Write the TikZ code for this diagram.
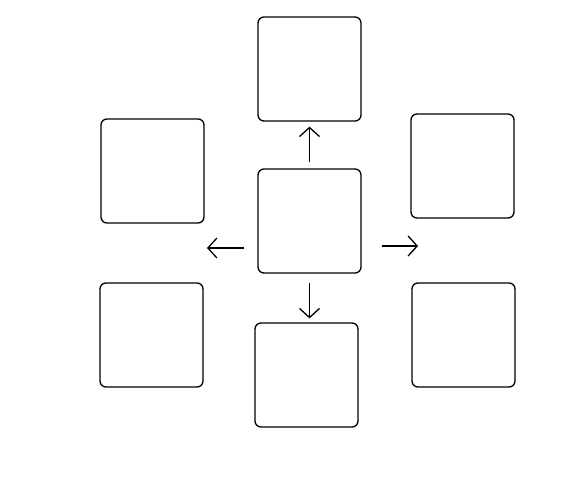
\documentclass[tikz,border=0pt]{standalone}
\usepackage{tikz}
\usetikzlibrary{arrows.meta, calc}

\begin{document}
\begin{tikzpicture}[
    x=1pt, y=-1pt,
    box/.style={rectangle, draw, rounded corners=6pt, line width=1.3pt, minimum width=103pt, minimum height=104pt, inner sep=0pt},
    arr/.style={-{Straight Barb[length=9pt, width=20pt]}, line width=1.3pt}
]
\useasboundingbox (0,0) rectangle (588,486);

% Centre box
\node[box] (centre) at (309.5, 221) {};

% Surrounding boxes
\node[box] (top) at (309.5, 69) {};
\node[box] (lefttop) at (152.5, 171) {};
\node[box] (righttop) at (462.5, 166) {};
\node[box] (leftbot) at (151.5, 335) {};
\node[box] (rightbot) at (463.5, 335) {};
\node[box] (bottom) at (306.5, 375) {};

% Arrow ends
\coordinate (leftend) at (207, 248);
\coordinate (rightend) at (418, 246);

% Arrows
\draw[arr, shorten <=6pt, shorten >=5pt] (centre) -- (top);
\draw[arr, shorten <=9pt, shorten >=4pt] (centre.south) -- (centre.south |- bottom.north);
\draw[arr, shorten <=13pt] (centre.west |- leftend) -- (leftend);
\draw[arr, shorten <=20pt] (centre.east |- rightend) -- (rightend);
\end{tikzpicture}
\end{document}
